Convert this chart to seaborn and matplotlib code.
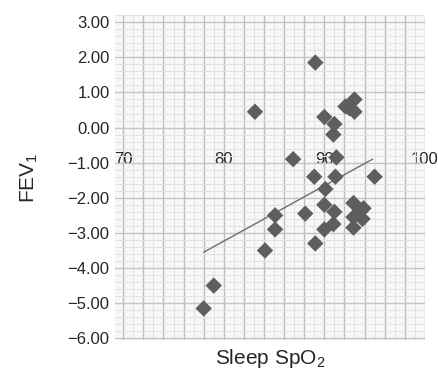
import matplotlib
matplotlib.use('Agg')
import matplotlib.pyplot as plt
import seaborn as sns
import numpy as np
import pandas as pd
from matplotlib.ticker import MultipleLocator

# Sleep SpO2 vs FEV1 values
spo2 = [89.1, 83.1, 90.0, 91.0, 90.9, 92.1, 93.0, 93.0, 92.5, 86.9,
        91.2, 89.0, 91.1, 95.0, 90.1, 90.0, 91.0, 88.1, 85.1, 85.1,
        84.1, 89.1, 90.0, 90.9, 92.9, 93.9, 92.9, 93.8, 92.9, 79.0,
        78.0, 93.5]
fev1 = [1.85, 0.45, 0.30, 0.10, -0.20, 0.60, 0.80, 0.45, 0.55, -0.90,
        -0.85, -1.40, -1.40, -1.40, -1.75, -2.20, -2.40, -2.45, -2.50, -2.90,
        -3.50, -3.30, -2.90, -2.75, -2.15, -2.30, -2.55, -2.60, -2.85, -4.50,
        -5.15, -2.40]

# trend line ends
fit_x = [78.0, 94.8]
fit_y = [-3.55, -0.90]

yticks = [3, 2, 1, 0, -1, -2, -3, -4, -5, -6]

df = pd.DataFrame({'spo2': spo2, 'fev1': fev1})
fit = pd.DataFrame({'x': fit_x, 'y': fit_y})

sns.set_style('white')
plt.rcParams['font.family'] = ['Liberation Sans', 'DejaVu Sans']
plt.rcParams['mathtext.fontset'] = 'custom'
plt.rcParams['mathtext.rm'] = 'Liberation Sans'
plt.rcParams['mathtext.it'] = 'Liberation Sans'

fig = plt.figure(figsize=(4.38, 3.70), dpi=100)
ax = fig.add_axes([0.263, 0.081, 0.707, 0.878])

sns.lineplot(x='x', y='y', data=fit, color='#6e6e6e', linewidth=1.0, ax=ax, zorder=2)
sns.scatterplot(x='spo2', y='fev1', data=df, marker='D', s=70, color='#5e5e5e',
                edgecolor='none', ax=ax, zorder=3)

ax.set_xlim(69.2, 100)
ax.set_ylim(-6.05, 3.2)
ax.set_yticks(yticks)
ax.set_yticklabels(['%.2f' % v if v >= 0 else '\u2212%.2f' % abs(v) for v in yticks])
ax.xaxis.set_major_locator(MultipleLocator(2))
ax.xaxis.set_major_formatter(plt.FuncFormatter(lambda v, p: '%d' % v if v % 10 == 0 else ''))
ax.xaxis.set_minor_locator(MultipleLocator(1))
ax.yaxis.set_minor_locator(MultipleLocator(0.2))

ax.set_axisbelow(True)
ax.grid(which='major', axis='x', color='#bdbdbd', linewidth=1.0)
ax.grid(which='major', axis='y', color='#c4c4c4', linewidth=1.0)
ax.grid(which='minor', color='#e2e2e2', linewidth=0.7)
ax.set_facecolor('#f7f7f7')

for s in ax.spines.values():
    s.set_visible(False)
ax.spines['bottom'].set_position(('data', -1))

# x labels sit just on top of the y = -1 line
ax.tick_params(axis='x', which='both', length=0, pad=3, labelsize=12)
ax.tick_params(axis='y', which='both', length=0, pad=4, labelsize=12)
for lab in ax.get_xticklabels():
    lab.set_verticalalignment('bottom')

ax.set_xlabel('Sleep SpO$_2$', fontsize=15)
ax.set_ylabel('FEV$_1$', fontsize=15, labelpad=20)
ax.xaxis.set_label_coords(0.5, -0.02)

fig.savefig('out.png', dpi=100)
